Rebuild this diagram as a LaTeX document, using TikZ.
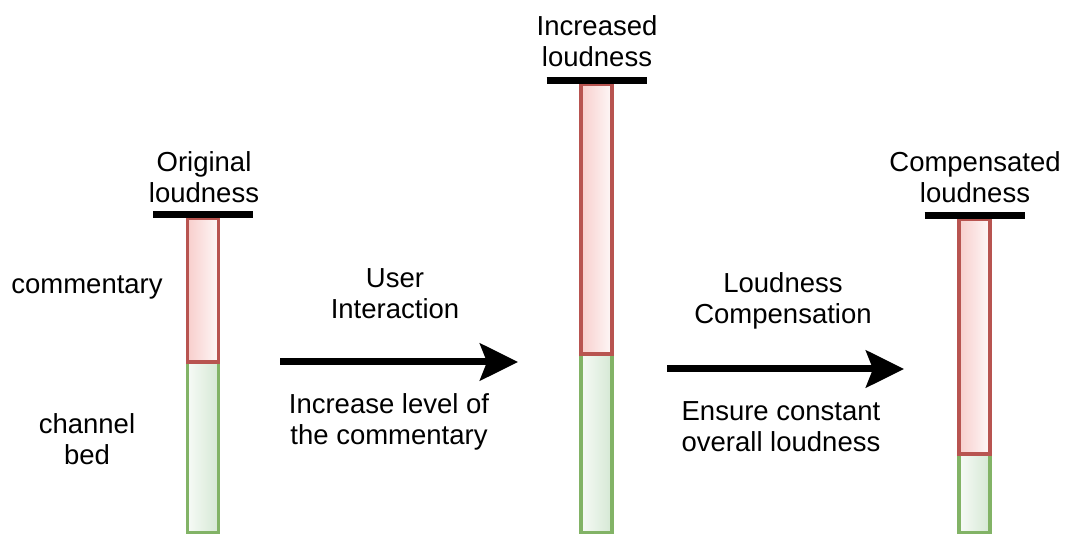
\documentclass[tikz,border=0pt]{standalone}
\usepackage{fontspec}
\setmainfont{Liberation Sans}
\usepackage{xcolor}
\usepackage{tikz}
\usetikzlibrary{arrows.meta, positioning}

\definecolor{cmtstroke}{HTML}{B85450}
\definecolor{cmtfill}{HTML}{F8CECC}
\definecolor{bedstroke}{HTML}{82B366}
\definecolor{bedfill}{HTML}{D5E8D4}

\begin{document}
\begin{tikzpicture}[
    x=1pt, y=1pt,
    txt/.style={align=center, inner sep=0pt, font=\fontsize{27.5}{31}\selectfont},
    cmtbar/.style={rectangle, draw=cmtstroke, line width=3.3pt, left color=cmtfill, right color=cmtfill!15, minimum width=31pt, outer sep=0pt, inner sep=0pt},
    bedbar/.style={rectangle, draw=bedstroke, line width=3.3pt, left color=bedfill!20, right color=bedfill, minimum width=31pt, outer sep=0pt, inner sep=0pt},
    levelline/.style={line width=7pt, black},
    arrow/.style={-{Stealth[length=38pt, width=37pt, inset=7pt]}, line width=7pt, black},
]
\useasboundingbox (0,0) rectangle (1065,535);

% Left: original loudness
\node[bedbar, minimum height=170.5pt, anchor=south] (bed1) at (203,2.5) {};
\node[cmtbar, minimum height=143.5pt, anchor=south] (cmt1) at (bed1.north) {};
\draw[levelline] ([xshift=-50pt, yshift=3.5pt]cmt1.north) -- ([xshift=50pt, yshift=3.5pt]cmt1.north);
\node[txt] (orig) at (204,357.5) {Original\\loudness};
\node[txt] (cmtlbl) at (87,248) {commentary};
\node[txt] (bedlbl) at (87,96) {channel\\bed};

% Middle: increased loudness
\node[bedbar, minimum height=178.5pt, anchor=south] (bed2) at (596.5,2.5) {};
\node[cmtbar, minimum height=269.5pt, anchor=south] (cmt2) at (bed2.north) {};
\draw[levelline] ([xshift=-50pt, yshift=3.5pt]cmt2.north) -- ([xshift=50pt, yshift=3.5pt]cmt2.north);
\node[txt] (incr) at (597,494) {Increased\\loudness};

% Right: compensated loudness
\node[bedbar, minimum height=78.5pt, anchor=south] (bed3) at (974.5,2.5) {};
\node[cmtbar, minimum height=234.5pt, anchor=south] (cmt3) at (bed3.north) {};
\draw[levelline] ([xshift=-50pt, yshift=3.5pt]cmt3.north) -- ([xshift=50pt, yshift=3.5pt]cmt3.north);
\node[txt] (comp) at (975,357.5) {Compensated\\loudness};

% Arrows
\coordinate (ui-start) at (280,173);
\coordinate (ui-end) at (518,173);
\draw[arrow] (ui-start) -- (ui-end);
\node[txt] (ui) at (395,241) {User\\Interaction};
\node[txt] (uidesc) at (389,113) {Increase level of\\the commentary};

\coordinate (lc-start) at (667,166);
\coordinate (lc-end) at (904,166);
\draw[arrow] (lc-start) -- (lc-end);
\node[txt] (lc) at (783,234) {Loudness\\Compensation};
\node[txt] (lcdesc) at (781,108) {Ensure constant\\overall loudness};
\end{tikzpicture}
\end{document}
